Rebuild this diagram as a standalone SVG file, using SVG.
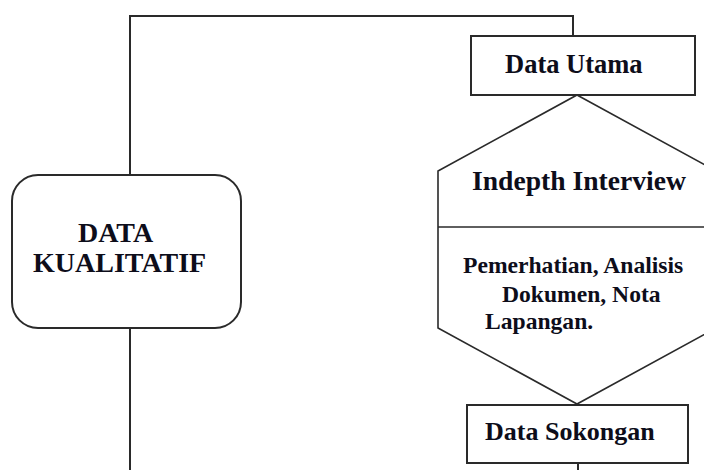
<svg xmlns="http://www.w3.org/2000/svg" width="704" height="470" viewBox="0 0 704 470">
<style>
.ln{fill:none;stroke:#2a2a2a;stroke-width:2}
.bx{fill:#fff;stroke:#2a2a2a;stroke-width:2}
.hx{fill:#fff;stroke:#2a2a2a;stroke-width:1.6}
.t{font-family:"Liberation Serif","Times New Roman",serif;font-weight:bold;fill:#0d0d1a}
</style>
<rect width="704" height="470" fill="#fff"/>
<g id="connectors">
<path class="ln" d="M130,175 V16 H573 V36"/>
<path class="ln" d="M130,328 V470"/>
<path class="ln" d="M578,463 V470"/>
</g>
<g id="hexagon">
<polygon class="hx" points="577,95 716,171 716,328 577,404 438,328 438,171"/>
<line class="hx" x1="438" y1="227" x2="704" y2="227"/>
<text class="t" x="472" y="190" font-size="27.6">Indepth Interview</text>
<text class="t" x="463" y="273" font-size="23.6">Pemerhatian, Analisis</text>
<text class="t" x="502" y="302" font-size="23.6">Dokumen, Nota</text>
<text class="t" x="485" y="329" font-size="23.6">Lapangan.</text>
</g>
<g id="data-utama">
<rect class="bx" x="471" y="36" width="224" height="59"/>
<text class="t" x="505" y="73" font-size="26.5">Data Utama</text>
</g>
<g id="data-sokongan">
<rect class="bx" x="467" y="405" width="221" height="58"/>
<text class="t" x="485" y="440" font-size="26">Data Sokongan</text>
</g>
<g id="data-kualitatif">
<rect class="bx" x="12" y="175" width="229" height="153" rx="26" ry="26"/>
<text class="t" x="78" y="242" font-size="28">DATA</text>
<text class="t" x="33" y="272" font-size="28">KUALITATIF</text>
</g>
</svg>
